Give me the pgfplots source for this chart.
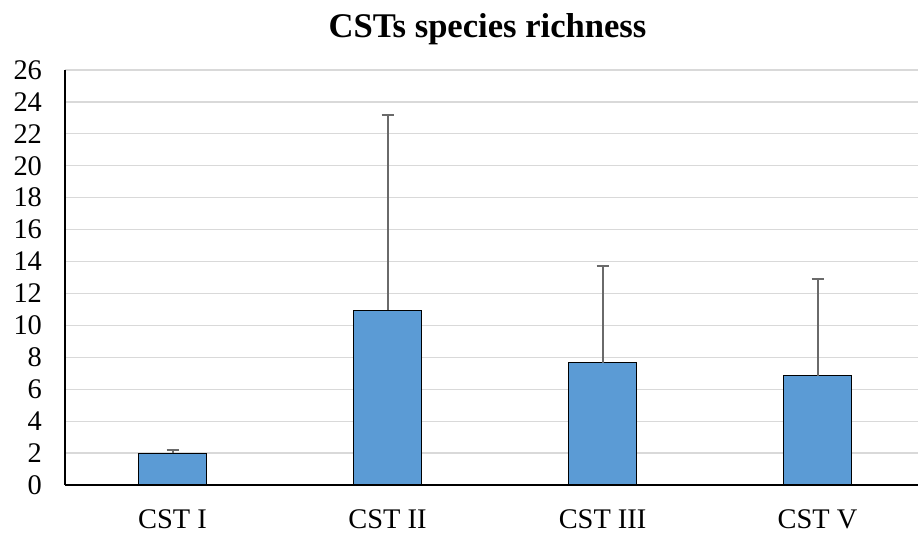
\documentclass[border=0pt]{standalone}
\usepackage{fontspec}
\setmainfont{Liberation Serif}
\usepackage{pgfplots}
\pgfplotsset{compat=1.18}
\definecolor{barblue}{HTML}{5B9BD5}
\definecolor{errgray}{HTML}{6A6A6A}
\definecolor{gridgray}{HTML}{D9D9D9}
\begin{document}
\begin{tikzpicture}
% page frame: 918x539 px at 0.5pt per px
\path[use as bounding box] (-32.5pt,-27pt) rectangle (426.5pt,242.5pt);
\begin{axis}[
  at={(0,0)}, anchor=south west,
  width=426.5pt, height=207.5pt, scale only axis,
  ybar, bar width=34pt,
  xmin=-0.5, xmax=3.467,
  ymin=0, ymax=26,
  xtick={0,1,2,3},
  xticklabels={CST I, CST II, CST III, CST V},
  ytick={0,2,...,26},
  major tick length=0pt,
  axis x line*=bottom, axis y line*=left,
  axis line style={black, line width=0.75pt, -},
  ymajorgrids,
  grid style={gridgray, line width=0.6pt},
  /pgf/number format/assume math mode=true,
  tick label style={font=\fontsize{14.2}{17}\selectfont},
  yticklabel style={xshift=-8pt},
  xticklabel style={anchor=base, yshift=-22pt},
  title={CSTs species richness},
  title style={font=\bfseries\fontsize{17.3}{20}\selectfont, at={(0.5,1)}, anchor=base, yshift=10pt, xshift=-2pt},
]
\addplot[fill=barblue, draw=black, line width=0.5pt,
  error bars/.cd, y dir=plus, y explicit,
  error mark=|,
  error bar style={draw=errgray, line width=1pt},
  error mark options={draw=errgray, line width=1pt, mark size=3pt}]
  coordinates {
    (0,1.98) +- (0,0.21)
    (1,10.96) +- (0,12.2)
    (2,7.66) +- (0,6.08)
    (3,6.83) +- (0,6.06)
  };
\end{axis}
\end{tikzpicture}
\end{document}
